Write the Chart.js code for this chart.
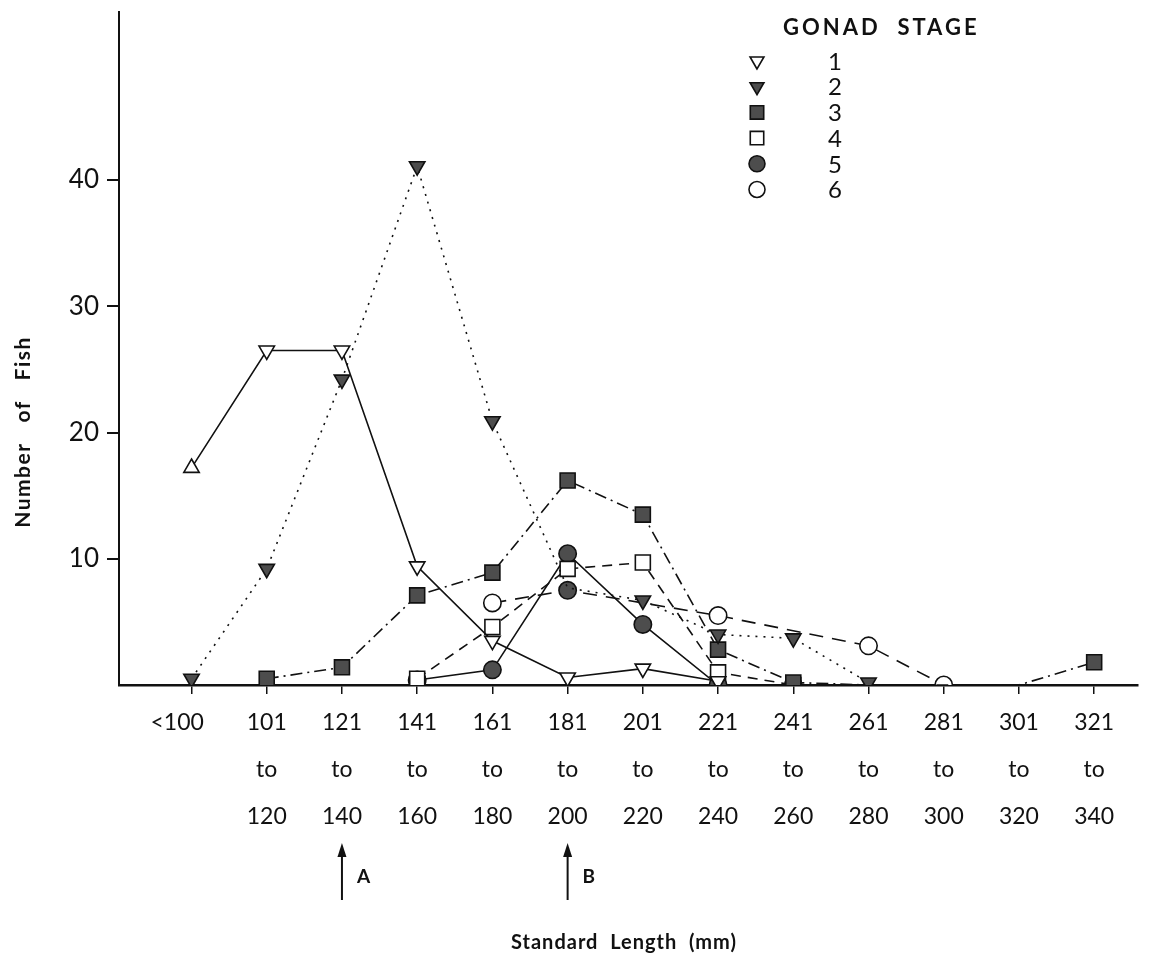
<!DOCTYPE html>
<html>
<head>
<meta charset="utf-8">
<script src="https://cdn.jsdelivr.net/npm/chart.js@4.4.1/dist/chart.umd.min.js"></script>
<style>
  html, body { margin: 0; padding: 0; background: #fff; }
  #wrap { width: 1150px; height: 973px; }
</style>
</head>
<body>
<div id="wrap"><canvas id="fishChart" width="1150" height="973"></canvas></div>
<script>
// length classes (mm), one label per column, split in lines
const LENGTH_CLASSES = [
  ['<100\u2003\u2002'],
  ['101', 'to', '120'],
  ['121', 'to', '140'],
  ['141', 'to', '160'],
  ['161', 'to', '180'],
  ['181', 'to', '200'],
  ['201', 'to', '220'],
  ['221', 'to', '240'],
  ['241', 'to', '260'],
  ['261', 'to', '280'],
  ['281', 'to', '300'],
  ['301', 'to', '320'],
  ['321', 'to', '340']
];
const Y_TICKS = [10, 20, 30, 40];
const STAGES = ['1', '2', '3', '4', '5', '6'];

// number of fish per length class, by gonad stage
const STAGE_1 = [17.2, 26.5, 26.5, 9.4, 3.5, 0.6, 1.3, 0.3, null, null, null, null, null];
const STAGE_2 = [0.5, 9.2, 24.2, 41.1, 20.9, 7.7, 6.7, 4.0, 3.7, 0.2, null, null, null];
const STAGE_3 = [null, 0.5, 1.4, 7.1, 8.9, 16.2, 13.5, 2.8, 0.2, 0, 0, 0, 1.8];
const STAGE_4 = [null, null, null, 0.5, 4.6, 9.2, 9.7, 1.0, 0, null, null, null, null];
const STAGE_5 = [null, null, null, 0.4, 1.2, 10.4, 4.8, 0, 0, null, null, null, null];
const STAGE_6 = [null, null, null, null, 6.5, 7.5, null, 5.5, null, 3.1, 0, null, null];

// points on the line that carry no visible marker
const NO_MARKER = { 1: [5], 2: [9, 10, 11] };

const INK = '#111';
const FILL = '#4d4d4d';
const FONT = 'Lato, "DejaVu Sans", sans-serif';

function toPoints(values) {
  return values.map((y, i) => ({ x: i, y }));
}

function stageSet(label, values, style) {
  return Object.assign({
    label,
    data: toPoints(values),
    borderColor: INK,
    borderWidth: 1.6,
    pointBorderColor: INK,
    pointBorderWidth: 1.6,
    pointHoverRadius: 0,
    spanGaps: true,
    tension: 0
  }, style);
}

function markerRadius(r) {
  return ctx => (NO_MARKER[ctx.datasetIndex] || []).includes(ctx.dataIndex) ? 0 : r;
}

const datasets = [
  stageSet(STAGES[0], STAGE_1, {
    pointStyle: 'triangle', pointRadius: 8.9, pointBackgroundColor: '#fff',
    pointRotation: ctx => ctx.dataIndex === 0 ? 0 : 180
  }),
  stageSet(STAGES[1], STAGE_2, {
    pointStyle: 'triangle', pointRadius: markerRadius(8.9), pointBackgroundColor: FILL,
    pointRotation: 180, borderDash: [2, 6]
  }),
  stageSet(STAGES[2], STAGE_3, {
    pointStyle: 'rect', pointRadius: markerRadius(10.6), pointBackgroundColor: FILL,
    borderDash: [12, 5, 2, 5]
  }),
  stageSet(STAGES[3], STAGE_4, {
    pointStyle: 'rect', pointRadius: 10.6, pointBackgroundColor: '#fff',
    borderDash: [10, 7]
  }),
  stageSet(STAGES[4], STAGE_5, {
    pointStyle: 'circle', pointRadius: 8.7, pointBackgroundColor: FILL
  }),
  stageSet(STAGES[5], STAGE_6, {
    pointStyle: 'circle', pointRadius: 8.7,
    pointBackgroundColor: ctx => ctx.dataIndex === 5 ? FILL : '#fff',
    borderDash: [14, 9]
  })
];

// titles, arrows and the legend block
const extras = {
  id: 'extras',
  afterDraw(chart) {
    const { ctx, scales } = chart;
    ctx.save();
    ctx.fillStyle = INK;
    ctx.strokeStyle = INK;

    // y title
    ctx.save();
    ctx.translate(23, 432);
    ctx.rotate(-Math.PI / 2);
    ctx.font = 'bold 21px ' + FONT;
    ctx.letterSpacing = '1.5px';
    ctx.textAlign = 'center';
    ctx.textBaseline = 'middle';
    ctx.fillText('Number   of   Fish', 0, 0);
    ctx.restore();

    // x title
    ctx.font = 'bold 20px ' + FONT;
    ctx.letterSpacing = '1px';
    ctx.textAlign = 'center';
    ctx.textBaseline = 'middle';
    ctx.fillText('Standard  Length  (mm)', 624, 943);

    // arrows A and B
    [[2, 'A'], [5, 'B']].forEach(([idx, tag]) => {
      const x = scales.x.getPixelForValue(idx);
      ctx.lineWidth = 2;
      ctx.beginPath();
      ctx.moveTo(x, 900);
      ctx.lineTo(x, 848);
      ctx.stroke();
      ctx.beginPath();
      ctx.moveTo(x, 843);
      ctx.lineTo(x - 4.5, 857);
      ctx.lineTo(x + 4.5, 857);
      ctx.closePath();
      ctx.fill();
      ctx.font = 'bold 19px ' + FONT;
      ctx.textAlign = 'left';
      ctx.fillText(tag, x + 15, 877);
    });

    // legend
    ctx.font = 'bold 22px ' + FONT;
    ctx.letterSpacing = '3px';
    ctx.textAlign = 'left';
    ctx.fillText('GONAD  STAGE', 783, 28);
    ctx.letterSpacing = '0px';
    ctx.font = '24px ' + FONT;
    ctx.textAlign = 'center';
    chart.data.datasets.forEach((ds, i) => {
      const y = 61 + i * 25.7;
      const r = ds.pointStyle === 'rect' ? 9.5 : 8;
      ctx.fillStyle = (i === 0 || i === 3 || i === 5) ? '#fff' : FILL;
      ctx.strokeStyle = INK;
      ctx.lineWidth = 1.6;
      Chart.helpers.drawPoint(ctx, {
        pointStyle: ds.pointStyle,
        radius: r,
        rotation: ds.pointStyle === 'triangle' ? 180 : 0,
        borderWidth: 1.6
      }, 757, y);
      ctx.fillStyle = INK;
      ctx.fillText(ds.label, 835, y + 1);
    });
    ctx.restore();
  }
};

new Chart(document.getElementById('fishChart'), {
  type: 'line',
  data: { datasets },
  plugins: [extras],
  options: {
    responsive: false,
    animation: false,
    events: [],
    layout: { padding: { left: 0, right: -7, top: 3, bottom: 0 } },
    plugins: {
      legend: { display: false },
      tooltip: { enabled: false }
    },
    scales: {
      x: {
        type: 'linear',
        min: -0.964,
        max: 12.58,
        afterBuildTicks: s => { s.ticks = LENGTH_CLASSES.map((_, i) => ({ value: i })); },
        afterFit: s => { s.height = 288; s.paddingLeft = 0; s.paddingRight = 0; },
        border: { display: true, color: INK, width: 2.5 },
        grid: { drawOnChartArea: false, drawTicks: true, tickLength: 9, color: INK, lineWidth: 1.5 },
        ticks: {
          autoSkip: false,
          maxRotation: 0,
          padding: 5,
          color: INK,
          font: { family: FONT, size: 23, lineHeight: '47px' },
          callback: v => LENGTH_CLASSES[v]
        }
      },
      y: {
        min: 0,
        max: 53.3,
        afterBuildTicks: s => { s.ticks = Y_TICKS.map(v => ({ value: v })); },
        afterFit: s => { s.width = 119; s.paddingTop = 0; s.paddingBottom = 0; },
        border: { display: true, color: INK, width: 2 },
        grid: { drawOnChartArea: false, drawTicks: true, tickLength: 12, color: INK, lineWidth: 2 },
        ticks: {
          padding: 8,
          color: INK,
          font: { family: FONT, size: 26 }
        }
      }
    }
  }
});
</script>
</body>
</html>
